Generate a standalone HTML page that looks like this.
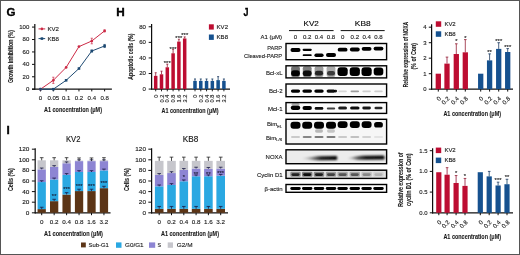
<!DOCTYPE html>
<html><head><meta charset="utf-8"><style>html,body{margin:0;padding:0;background:#fff;width:520px;height:255px;overflow:hidden}svg{display:block}</style></head>
<body><svg width="520" height="255" viewBox="0 0 520 255" font-family='"Liberation Sans", sans-serif' fill="#1a1a1a">
<defs><filter id="blur" x="-20%" y="-50%" width="140%" height="200%"><feGaussianBlur stdDeviation="0.55"/></filter>
<linearGradient id="nx1" x1="301" x2="338" y1="0" y2="0" gradientUnits="userSpaceOnUse"><stop offset="0" stop-color="#000" stop-opacity="0.05"/><stop offset="0.3" stop-color="#000" stop-opacity="0.45"/><stop offset="0.55" stop-color="#000" stop-opacity="0.9"/><stop offset="1" stop-color="#000" stop-opacity="1"/></linearGradient>
<linearGradient id="nx2" x1="347" x2="385" y1="0" y2="0" gradientUnits="userSpaceOnUse"><stop offset="0" stop-color="#000" stop-opacity="0.1"/><stop offset="0.3" stop-color="#000" stop-opacity="0.7"/><stop offset="0.5" stop-color="#000" stop-opacity="0.95"/><stop offset="1" stop-color="#000" stop-opacity="1"/></linearGradient>
<filter id="blur2" x="-20%" y="-100%" width="140%" height="300%"><feGaussianBlur stdDeviation="0.8"/></filter>
<filter id="soft" x="0" y="0" width="100%" height="100%"><feGaussianBlur stdDeviation="0.3"/></filter></defs>
<style>text{stroke:#1a1a1a;stroke-width:0.12px}</style>
<rect x="0" y="0" width="520" height="255" fill="#fff"/>
<g filter="url(#soft)">
<text transform="translate(6.50 15.60) scale(1.1 1)" font-size="10.5" text-anchor="start" font-weight="bold" fill="#000" style="stroke:#000;stroke-width:0.35px">G</text>
<line x1="34.80" y1="23.90" x2="34.80" y2="89.80" stroke="#111" stroke-width="1.2"/>
<line x1="32.00" y1="89.20" x2="111.90" y2="89.20" stroke="#111" stroke-width="1.2"/>
<line x1="32.00" y1="89.20" x2="34.80" y2="89.20" stroke="#111" stroke-width="1.0"/>
<text transform="translate(29.30 91.15) scale(1.1 1)" font-size="5.5" text-anchor="end">0</text>
<line x1="32.00" y1="76.78" x2="34.80" y2="76.78" stroke="#111" stroke-width="1.0"/>
<text transform="translate(29.30 78.73) scale(1.1 1)" font-size="5.5" text-anchor="end">20</text>
<line x1="32.00" y1="64.36" x2="34.80" y2="64.36" stroke="#111" stroke-width="1.0"/>
<text transform="translate(29.30 66.31) scale(1.1 1)" font-size="5.5" text-anchor="end">40</text>
<line x1="32.00" y1="51.94" x2="34.80" y2="51.94" stroke="#111" stroke-width="1.0"/>
<text transform="translate(29.30 53.89) scale(1.1 1)" font-size="5.5" text-anchor="end">60</text>
<line x1="32.00" y1="39.52" x2="34.80" y2="39.52" stroke="#111" stroke-width="1.0"/>
<text transform="translate(29.30 41.47) scale(1.1 1)" font-size="5.5" text-anchor="end">80</text>
<line x1="32.00" y1="27.10" x2="34.80" y2="27.10" stroke="#111" stroke-width="1.0"/>
<text transform="translate(29.30 29.05) scale(1.1 1)" font-size="5.5" text-anchor="end">100</text>
<line x1="40.50" y1="89.20" x2="40.50" y2="91.40" stroke="#111" stroke-width="1.0"/>
<text transform="translate(40.50 99.60) scale(1.1 1)" font-size="5.5" text-anchor="middle">0</text>
<line x1="53.32" y1="89.20" x2="53.32" y2="91.40" stroke="#111" stroke-width="1.0"/>
<text transform="translate(53.32 99.60) scale(1.1 1)" font-size="5.5" text-anchor="middle">0.05</text>
<line x1="66.14" y1="89.20" x2="66.14" y2="91.40" stroke="#111" stroke-width="1.0"/>
<text transform="translate(66.14 99.60) scale(1.1 1)" font-size="5.5" text-anchor="middle">0.1</text>
<line x1="78.96" y1="89.20" x2="78.96" y2="91.40" stroke="#111" stroke-width="1.0"/>
<text transform="translate(78.96 99.60) scale(1.1 1)" font-size="5.5" text-anchor="middle">0.2</text>
<line x1="91.78" y1="89.20" x2="91.78" y2="91.40" stroke="#111" stroke-width="1.0"/>
<text transform="translate(91.78 99.60) scale(1.1 1)" font-size="5.5" text-anchor="middle">0.4</text>
<line x1="104.60" y1="89.20" x2="104.60" y2="91.40" stroke="#111" stroke-width="1.0"/>
<text transform="translate(104.60 99.60) scale(1.1 1)" font-size="5.5" text-anchor="middle">0.8</text>
<text transform="translate(73.00 111.70)" font-size="8.1" text-anchor="middle" font-weight="bold" textLength="58.00" lengthAdjust="spacingAndGlyphs">A1 concentration (μM)</text>
<text transform="translate(12.90 56.50) rotate(-90)" font-size="7.2" text-anchor="middle" font-weight="bold" textLength="53.00" lengthAdjust="spacingAndGlyphs">Growth inhibition (%)</text>
<polyline points="40.50,89.20 53.32,80.32 66.14,67.40 78.96,46.60 91.78,41.01 104.60,30.89" fill="none" stroke="#cc2a46" stroke-width="1.0"/>
<polyline points="40.50,89.20 53.32,89.20 66.14,80.32 78.96,68.52 91.78,51.01 104.60,45.98" fill="none" stroke="#1f4a72" stroke-width="1.0"/>
<line x1="53.32" y1="77.21" x2="53.32" y2="83.42" stroke="#cc2a46" stroke-width="0.7"/>
<line x1="52.22" y1="77.21" x2="54.42" y2="77.21" stroke="#cc2a46" stroke-width="0.7"/>
<line x1="52.22" y1="83.42" x2="54.42" y2="83.42" stroke="#cc2a46" stroke-width="0.7"/>
<line x1="91.78" y1="38.22" x2="91.78" y2="43.80" stroke="#cc2a46" stroke-width="0.7"/>
<line x1="90.68" y1="38.22" x2="92.88" y2="38.22" stroke="#cc2a46" stroke-width="0.7"/>
<line x1="90.68" y1="43.80" x2="92.88" y2="43.80" stroke="#cc2a46" stroke-width="0.7"/>
<line x1="104.60" y1="29.96" x2="104.60" y2="31.82" stroke="#cc2a46" stroke-width="0.7"/>
<line x1="103.50" y1="29.96" x2="105.70" y2="29.96" stroke="#cc2a46" stroke-width="0.7"/>
<line x1="103.50" y1="31.82" x2="105.70" y2="31.82" stroke="#cc2a46" stroke-width="0.7"/>
<line x1="104.60" y1="44.43" x2="104.60" y2="47.53" stroke="#1f4a72" stroke-width="0.7"/>
<line x1="103.50" y1="44.43" x2="105.70" y2="44.43" stroke="#1f4a72" stroke-width="0.7"/>
<line x1="103.50" y1="47.53" x2="105.70" y2="47.53" stroke="#1f4a72" stroke-width="0.7"/>
<line x1="91.78" y1="50.08" x2="91.78" y2="51.94" stroke="#1f4a72" stroke-width="0.7"/>
<line x1="90.68" y1="50.08" x2="92.88" y2="50.08" stroke="#1f4a72" stroke-width="0.7"/>
<line x1="90.68" y1="51.94" x2="92.88" y2="51.94" stroke="#1f4a72" stroke-width="0.7"/>
<circle cx="40.50" cy="89.20" r="1.35" fill="#cc2a46"/>
<circle cx="53.32" cy="80.32" r="1.35" fill="#cc2a46"/>
<circle cx="66.14" cy="67.40" r="1.35" fill="#cc2a46"/>
<circle cx="78.96" cy="46.60" r="1.35" fill="#cc2a46"/>
<circle cx="91.78" cy="41.01" r="1.35" fill="#cc2a46"/>
<circle cx="104.60" cy="30.89" r="1.35" fill="#cc2a46"/>
<rect x="39.20" y="87.90" width="2.60" height="2.60" fill="#1f4a72"/>
<rect x="52.02" y="87.90" width="2.60" height="2.60" fill="#1f4a72"/>
<rect x="64.84" y="79.02" width="2.60" height="2.60" fill="#1f4a72"/>
<rect x="77.66" y="67.22" width="2.60" height="2.60" fill="#1f4a72"/>
<rect x="90.48" y="49.71" width="2.60" height="2.60" fill="#1f4a72"/>
<rect x="103.30" y="44.68" width="2.60" height="2.60" fill="#1f4a72"/>
<line x1="38.50" y1="28.90" x2="45.20" y2="28.90" stroke="#cc2a46" stroke-width="1.0"/>
<circle cx="41.9" cy="28.9" r="1.3" fill="#cc2a46"/>
<text transform="translate(47.40 31.00)" font-size="6.2" text-anchor="start" textLength="11.60" lengthAdjust="spacingAndGlyphs">KV2</text>
<line x1="38.50" y1="38.60" x2="45.20" y2="38.60" stroke="#1f4a72" stroke-width="1.0"/>
<rect x="40.60" y="37.30" width="2.60" height="2.60" fill="#1f4a72"/>
<text transform="translate(47.40 40.70)" font-size="6.2" text-anchor="start" textLength="11.60" lengthAdjust="spacingAndGlyphs">KB8</text>
<text transform="translate(116.30 15.60) scale(1.12 1)" font-size="10.5" text-anchor="start" font-weight="bold" fill="#000" style="stroke:#000;stroke-width:0.35px">H</text>
<line x1="151.60" y1="24.10" x2="151.60" y2="89.60" stroke="#111" stroke-width="1.2"/>
<line x1="151.00" y1="89.10" x2="230.00" y2="89.10" stroke="#111" stroke-width="1.2"/>
<line x1="148.70" y1="89.10" x2="151.60" y2="89.10" stroke="#111" stroke-width="1.0"/>
<text transform="translate(145.90 91.05) scale(1.1 1)" font-size="5.5" text-anchor="end">0</text>
<line x1="148.70" y1="73.52" x2="151.60" y2="73.52" stroke="#111" stroke-width="1.0"/>
<text transform="translate(145.90 75.47) scale(1.1 1)" font-size="5.5" text-anchor="end">20</text>
<line x1="148.70" y1="57.94" x2="151.60" y2="57.94" stroke="#111" stroke-width="1.0"/>
<text transform="translate(145.90 59.89) scale(1.1 1)" font-size="5.5" text-anchor="end">40</text>
<line x1="148.70" y1="42.36" x2="151.60" y2="42.36" stroke="#111" stroke-width="1.0"/>
<text transform="translate(145.90 44.31) scale(1.1 1)" font-size="5.5" text-anchor="end">60</text>
<line x1="148.70" y1="26.78" x2="151.60" y2="26.78" stroke="#111" stroke-width="1.0"/>
<text transform="translate(145.90 28.73) scale(1.1 1)" font-size="5.5" text-anchor="end">80</text>
<rect x="153.95" y="75.86" width="3.50" height="13.24" fill="#bd1131"/>
<line x1="155.70" y1="75.86" x2="155.70" y2="72.74" stroke="#8c0d27" stroke-width="0.75"/>
<line x1="154.70" y1="72.74" x2="156.70" y2="72.74" stroke="#8c0d27" stroke-width="0.75"/>
<line x1="155.70" y1="89.10" x2="155.70" y2="91.30" stroke="#111" stroke-width="0.9"/>
<text transform="translate(157.70 94.60) rotate(-90)" font-size="5.6" text-anchor="end">0</text>
<rect x="159.75" y="74.30" width="3.50" height="14.80" fill="#bd1131"/>
<line x1="161.50" y1="74.30" x2="161.50" y2="71.18" stroke="#8c0d27" stroke-width="0.75"/>
<line x1="160.50" y1="71.18" x2="162.50" y2="71.18" stroke="#8c0d27" stroke-width="0.75"/>
<line x1="161.50" y1="89.10" x2="161.50" y2="91.30" stroke="#111" stroke-width="0.9"/>
<text transform="translate(163.50 94.60) rotate(-90)" font-size="5.6" text-anchor="end">0.2</text>
<rect x="165.55" y="67.29" width="3.50" height="21.81" fill="#bd1131"/>
<line x1="167.30" y1="67.29" x2="167.30" y2="64.17" stroke="#8c0d27" stroke-width="0.75"/>
<line x1="166.30" y1="64.17" x2="168.30" y2="64.17" stroke="#8c0d27" stroke-width="0.75"/>
<line x1="167.30" y1="89.10" x2="167.30" y2="91.30" stroke="#111" stroke-width="0.9"/>
<text transform="translate(169.30 94.60) rotate(-90)" font-size="5.6" text-anchor="end">0.4</text>
<rect x="171.35" y="53.27" width="3.50" height="35.83" fill="#bd1131"/>
<line x1="173.10" y1="53.27" x2="173.10" y2="49.37" stroke="#8c0d27" stroke-width="0.75"/>
<line x1="172.10" y1="49.37" x2="174.10" y2="49.37" stroke="#8c0d27" stroke-width="0.75"/>
<line x1="173.10" y1="89.10" x2="173.10" y2="91.30" stroke="#111" stroke-width="0.9"/>
<text transform="translate(175.10 94.60) rotate(-90)" font-size="5.6" text-anchor="end">0.8</text>
<rect x="177.15" y="41.58" width="3.50" height="47.52" fill="#bd1131"/>
<line x1="178.90" y1="41.58" x2="178.90" y2="39.24" stroke="#8c0d27" stroke-width="0.75"/>
<line x1="177.90" y1="39.24" x2="179.90" y2="39.24" stroke="#8c0d27" stroke-width="0.75"/>
<line x1="178.90" y1="89.10" x2="178.90" y2="91.30" stroke="#111" stroke-width="0.9"/>
<text transform="translate(180.90 94.60) rotate(-90)" font-size="5.6" text-anchor="end">1.6</text>
<rect x="182.95" y="38.46" width="3.50" height="50.64" fill="#bd1131"/>
<line x1="184.70" y1="38.46" x2="184.70" y2="36.91" stroke="#8c0d27" stroke-width="0.75"/>
<line x1="183.70" y1="36.91" x2="185.70" y2="36.91" stroke="#8c0d27" stroke-width="0.75"/>
<line x1="184.70" y1="89.10" x2="184.70" y2="91.30" stroke="#111" stroke-width="0.9"/>
<text transform="translate(186.70 94.60) rotate(-90)" font-size="5.6" text-anchor="end">3.2</text>
<rect x="193.25" y="80.92" width="3.50" height="8.18" fill="#14518f"/>
<line x1="195.00" y1="80.92" x2="195.00" y2="78.97" stroke="#0d2f58" stroke-width="0.75"/>
<line x1="194.00" y1="78.97" x2="196.00" y2="78.97" stroke="#0d2f58" stroke-width="0.75"/>
<line x1="195.00" y1="89.10" x2="195.00" y2="91.30" stroke="#111" stroke-width="0.9"/>
<text transform="translate(197.00 94.60) rotate(-90)" font-size="5.6" text-anchor="end">0</text>
<rect x="199.03" y="80.92" width="3.50" height="8.18" fill="#14518f"/>
<line x1="200.78" y1="80.92" x2="200.78" y2="78.97" stroke="#0d2f58" stroke-width="0.75"/>
<line x1="199.78" y1="78.97" x2="201.78" y2="78.97" stroke="#0d2f58" stroke-width="0.75"/>
<line x1="200.78" y1="89.10" x2="200.78" y2="91.30" stroke="#111" stroke-width="0.9"/>
<text transform="translate(202.78 94.60) rotate(-90)" font-size="5.6" text-anchor="end">0.2</text>
<rect x="204.81" y="80.92" width="3.50" height="8.18" fill="#14518f"/>
<line x1="206.56" y1="80.92" x2="206.56" y2="78.97" stroke="#0d2f58" stroke-width="0.75"/>
<line x1="205.56" y1="78.97" x2="207.56" y2="78.97" stroke="#0d2f58" stroke-width="0.75"/>
<line x1="206.56" y1="89.10" x2="206.56" y2="91.30" stroke="#111" stroke-width="0.9"/>
<text transform="translate(208.56 94.60) rotate(-90)" font-size="5.6" text-anchor="end">0.4</text>
<rect x="210.59" y="80.92" width="3.50" height="8.18" fill="#14518f"/>
<line x1="212.34" y1="80.92" x2="212.34" y2="78.97" stroke="#0d2f58" stroke-width="0.75"/>
<line x1="211.34" y1="78.97" x2="213.34" y2="78.97" stroke="#0d2f58" stroke-width="0.75"/>
<line x1="212.34" y1="89.10" x2="212.34" y2="91.30" stroke="#111" stroke-width="0.9"/>
<text transform="translate(214.34 94.60) rotate(-90)" font-size="5.6" text-anchor="end">0.8</text>
<rect x="216.37" y="80.14" width="3.50" height="8.96" fill="#14518f"/>
<line x1="218.12" y1="80.14" x2="218.12" y2="76.64" stroke="#0d2f58" stroke-width="0.75"/>
<line x1="217.12" y1="76.64" x2="219.12" y2="76.64" stroke="#0d2f58" stroke-width="0.75"/>
<line x1="218.12" y1="89.10" x2="218.12" y2="91.30" stroke="#111" stroke-width="0.9"/>
<text transform="translate(220.12 94.60) rotate(-90)" font-size="5.6" text-anchor="end">1.6</text>
<rect x="222.15" y="80.92" width="3.50" height="8.18" fill="#14518f"/>
<line x1="223.90" y1="80.92" x2="223.90" y2="78.97" stroke="#0d2f58" stroke-width="0.75"/>
<line x1="222.90" y1="78.97" x2="224.90" y2="78.97" stroke="#0d2f58" stroke-width="0.75"/>
<line x1="223.90" y1="89.10" x2="223.90" y2="91.30" stroke="#111" stroke-width="0.9"/>
<text transform="translate(225.90 94.60) rotate(-90)" font-size="5.6" text-anchor="end">3.2</text>
<text transform="translate(167.30 65.38)" font-size="5.8" text-anchor="middle" fill="#111" letter-spacing="0.1">***</text>
<text transform="translate(173.10 51.38)" font-size="5.8" text-anchor="middle" fill="#111" letter-spacing="0.1">***</text>
<text transform="translate(178.90 39.98)" font-size="5.8" text-anchor="middle" fill="#111" letter-spacing="0.1">***</text>
<text transform="translate(184.70 36.78)" font-size="5.8" text-anchor="middle" fill="#111" letter-spacing="0.1">***</text>
<text transform="translate(190.00 113.20)" font-size="8.1" text-anchor="middle" font-weight="bold" textLength="57.00" lengthAdjust="spacingAndGlyphs">A1 concentration (μM)</text>
<text transform="translate(133.30 56.60) rotate(-90)" font-size="7.2" text-anchor="middle" font-weight="bold" textLength="46.20" lengthAdjust="spacingAndGlyphs">Apoptotic cells (%)</text>
<rect x="208.90" y="24.30" width="4.90" height="5.30" fill="#bd1131"/>
<text transform="translate(216.60 29.00)" font-size="5.8" text-anchor="start" textLength="11.40" lengthAdjust="spacingAndGlyphs">KV2</text>
<rect x="208.90" y="34.50" width="4.90" height="5.40" fill="#14518f"/>
<text transform="translate(216.60 39.00)" font-size="5.8" text-anchor="start" textLength="11.40" lengthAdjust="spacingAndGlyphs">KB8</text>
<text transform="translate(6.50 133.60) scale(1.1 1)" font-size="10.5" text-anchor="start" font-weight="bold" fill="#000" style="stroke:#000;stroke-width:0.35px">I</text>
<text transform="translate(73.20 141.80)" font-size="8.2" text-anchor="middle" fill="#111" textLength="14.50" lengthAdjust="spacingAndGlyphs">KV2</text>
<text transform="translate(190.50 141.80)" font-size="8.2" text-anchor="middle" fill="#111" textLength="15.50" lengthAdjust="spacingAndGlyphs">KB8</text>
<line x1="35.20" y1="148.20" x2="35.20" y2="213.40" stroke="#111" stroke-width="1.2"/>
<line x1="34.70" y1="212.80" x2="110.50" y2="212.80" stroke="#111" stroke-width="1.2"/>
<line x1="31.90" y1="212.80" x2="35.20" y2="212.80" stroke="#111" stroke-width="1.0"/>
<text transform="translate(29.40 214.80) scale(1.15 1)" font-size="5.6" text-anchor="end">0</text>
<line x1="31.90" y1="202.20" x2="35.20" y2="202.20" stroke="#111" stroke-width="1.0"/>
<text transform="translate(29.40 204.20) scale(1.15 1)" font-size="5.6" text-anchor="end">20</text>
<line x1="31.90" y1="191.60" x2="35.20" y2="191.60" stroke="#111" stroke-width="1.0"/>
<text transform="translate(29.40 193.60) scale(1.15 1)" font-size="5.6" text-anchor="end">40</text>
<line x1="31.90" y1="181.00" x2="35.20" y2="181.00" stroke="#111" stroke-width="1.0"/>
<text transform="translate(29.40 183.00) scale(1.15 1)" font-size="5.6" text-anchor="end">60</text>
<line x1="31.90" y1="170.40" x2="35.20" y2="170.40" stroke="#111" stroke-width="1.0"/>
<text transform="translate(29.40 172.40) scale(1.15 1)" font-size="5.6" text-anchor="end">80</text>
<line x1="31.90" y1="159.80" x2="35.20" y2="159.80" stroke="#111" stroke-width="1.0"/>
<text transform="translate(29.40 161.80) scale(1.15 1)" font-size="5.6" text-anchor="end">100</text>
<line x1="31.90" y1="149.20" x2="35.20" y2="149.20" stroke="#111" stroke-width="1.0"/>
<text transform="translate(29.40 151.20) scale(1.15 1)" font-size="5.6" text-anchor="end">120</text>
<rect x="37.55" y="209.09" width="8.30" height="3.71" fill="#5b3518"/>
<rect x="37.55" y="182.06" width="8.30" height="27.03" fill="#2aa8e2"/>
<rect x="37.55" y="169.34" width="8.30" height="12.72" fill="#8d85d3"/>
<rect x="37.55" y="160.33" width="8.30" height="9.01" fill="#c6c6cc"/>
<line x1="41.70" y1="212.80" x2="41.70" y2="215.20" stroke="#111" stroke-width="1.0"/>
<rect x="50.00" y="201.14" width="8.30" height="11.66" fill="#5b3518"/>
<rect x="50.00" y="179.41" width="8.30" height="21.73" fill="#2aa8e2"/>
<rect x="50.00" y="166.96" width="8.30" height="12.46" fill="#8d85d3"/>
<rect x="50.00" y="160.33" width="8.30" height="6.62" fill="#c6c6cc"/>
<line x1="54.15" y1="212.80" x2="54.15" y2="215.20" stroke="#111" stroke-width="1.0"/>
<rect x="62.45" y="194.52" width="8.30" height="18.28" fill="#5b3518"/>
<rect x="62.45" y="174.91" width="8.30" height="19.61" fill="#2aa8e2"/>
<rect x="62.45" y="163.25" width="8.30" height="11.66" fill="#8d85d3"/>
<rect x="62.45" y="160.33" width="8.30" height="2.91" fill="#c6c6cc"/>
<line x1="66.60" y1="212.80" x2="66.60" y2="215.20" stroke="#111" stroke-width="1.0"/>
<rect x="74.90" y="191.07" width="8.30" height="21.73" fill="#5b3518"/>
<rect x="74.90" y="171.99" width="8.30" height="19.08" fill="#2aa8e2"/>
<rect x="74.90" y="161.12" width="8.30" height="10.87" fill="#8d85d3"/>
<rect x="74.90" y="160.59" width="8.30" height="0.53" fill="#c6c6cc"/>
<line x1="79.05" y1="212.80" x2="79.05" y2="215.20" stroke="#111" stroke-width="1.0"/>
<rect x="87.35" y="191.07" width="8.30" height="21.73" fill="#5b3518"/>
<rect x="87.35" y="171.99" width="8.30" height="19.08" fill="#2aa8e2"/>
<rect x="87.35" y="161.12" width="8.30" height="10.87" fill="#8d85d3"/>
<rect x="87.35" y="160.59" width="8.30" height="0.53" fill="#c6c6cc"/>
<line x1="91.50" y1="212.80" x2="91.50" y2="215.20" stroke="#111" stroke-width="1.0"/>
<rect x="99.80" y="188.16" width="8.30" height="24.65" fill="#5b3518"/>
<rect x="99.80" y="170.40" width="8.30" height="17.75" fill="#2aa8e2"/>
<rect x="99.80" y="161.12" width="8.30" height="9.28" fill="#8d85d3"/>
<rect x="99.80" y="160.33" width="8.30" height="0.79" fill="#c6c6cc"/>
<line x1="103.95" y1="212.80" x2="103.95" y2="215.20" stroke="#111" stroke-width="1.0"/>
<line x1="41.70" y1="209.09" x2="41.70" y2="207.24" stroke="#1b1b46" stroke-width="0.8"/>
<line x1="39.90" y1="207.24" x2="43.50" y2="207.24" stroke="#1b1b46" stroke-width="0.8"/>
<line x1="41.70" y1="182.06" x2="41.70" y2="180.74" stroke="#1b1b46" stroke-width="0.8"/>
<line x1="39.90" y1="180.74" x2="43.50" y2="180.74" stroke="#1b1b46" stroke-width="0.8"/>
<line x1="41.70" y1="169.34" x2="41.70" y2="168.02" stroke="#1b1b46" stroke-width="0.8"/>
<line x1="39.90" y1="168.02" x2="43.50" y2="168.02" stroke="#1b1b46" stroke-width="0.8"/>
<line x1="41.70" y1="160.33" x2="41.70" y2="157.68" stroke="#222" stroke-width="0.8"/>
<line x1="39.90" y1="157.68" x2="43.50" y2="157.68" stroke="#222" stroke-width="0.8"/>
<line x1="54.15" y1="201.14" x2="54.15" y2="199.29" stroke="#1b1b46" stroke-width="0.8"/>
<line x1="52.35" y1="199.29" x2="55.95" y2="199.29" stroke="#1b1b46" stroke-width="0.8"/>
<line x1="54.15" y1="179.41" x2="54.15" y2="178.09" stroke="#1b1b46" stroke-width="0.8"/>
<line x1="52.35" y1="178.09" x2="55.95" y2="178.09" stroke="#1b1b46" stroke-width="0.8"/>
<line x1="54.15" y1="166.96" x2="54.15" y2="165.63" stroke="#1b1b46" stroke-width="0.8"/>
<line x1="52.35" y1="165.63" x2="55.95" y2="165.63" stroke="#1b1b46" stroke-width="0.8"/>
<line x1="54.15" y1="160.33" x2="54.15" y2="157.68" stroke="#222" stroke-width="0.8"/>
<line x1="52.35" y1="157.68" x2="55.95" y2="157.68" stroke="#222" stroke-width="0.8"/>
<line x1="66.60" y1="194.52" x2="66.60" y2="192.66" stroke="#1b1b46" stroke-width="0.8"/>
<line x1="64.80" y1="192.66" x2="68.40" y2="192.66" stroke="#1b1b46" stroke-width="0.8"/>
<line x1="66.60" y1="174.91" x2="66.60" y2="173.58" stroke="#1b1b46" stroke-width="0.8"/>
<line x1="64.80" y1="173.58" x2="68.40" y2="173.58" stroke="#1b1b46" stroke-width="0.8"/>
<line x1="66.60" y1="163.25" x2="66.60" y2="161.92" stroke="#1b1b46" stroke-width="0.8"/>
<line x1="64.80" y1="161.92" x2="68.40" y2="161.92" stroke="#1b1b46" stroke-width="0.8"/>
<line x1="66.60" y1="160.33" x2="66.60" y2="157.68" stroke="#222" stroke-width="0.8"/>
<line x1="64.80" y1="157.68" x2="68.40" y2="157.68" stroke="#222" stroke-width="0.8"/>
<line x1="79.05" y1="191.07" x2="79.05" y2="189.22" stroke="#1b1b46" stroke-width="0.8"/>
<line x1="77.25" y1="189.22" x2="80.85" y2="189.22" stroke="#1b1b46" stroke-width="0.8"/>
<line x1="79.05" y1="171.99" x2="79.05" y2="170.67" stroke="#1b1b46" stroke-width="0.8"/>
<line x1="77.25" y1="170.67" x2="80.85" y2="170.67" stroke="#1b1b46" stroke-width="0.8"/>
<line x1="79.05" y1="161.12" x2="79.05" y2="159.80" stroke="#1b1b46" stroke-width="0.8"/>
<line x1="77.25" y1="159.80" x2="80.85" y2="159.80" stroke="#1b1b46" stroke-width="0.8"/>
<line x1="79.05" y1="160.59" x2="79.05" y2="157.94" stroke="#222" stroke-width="0.8"/>
<line x1="77.25" y1="157.94" x2="80.85" y2="157.94" stroke="#222" stroke-width="0.8"/>
<line x1="91.50" y1="191.07" x2="91.50" y2="189.22" stroke="#1b1b46" stroke-width="0.8"/>
<line x1="89.70" y1="189.22" x2="93.30" y2="189.22" stroke="#1b1b46" stroke-width="0.8"/>
<line x1="91.50" y1="171.99" x2="91.50" y2="170.67" stroke="#1b1b46" stroke-width="0.8"/>
<line x1="89.70" y1="170.67" x2="93.30" y2="170.67" stroke="#1b1b46" stroke-width="0.8"/>
<line x1="91.50" y1="161.12" x2="91.50" y2="159.80" stroke="#1b1b46" stroke-width="0.8"/>
<line x1="89.70" y1="159.80" x2="93.30" y2="159.80" stroke="#1b1b46" stroke-width="0.8"/>
<line x1="91.50" y1="160.59" x2="91.50" y2="157.94" stroke="#222" stroke-width="0.8"/>
<line x1="89.70" y1="157.94" x2="93.30" y2="157.94" stroke="#222" stroke-width="0.8"/>
<line x1="103.95" y1="188.16" x2="103.95" y2="186.30" stroke="#1b1b46" stroke-width="0.8"/>
<line x1="102.15" y1="186.30" x2="105.75" y2="186.30" stroke="#1b1b46" stroke-width="0.8"/>
<line x1="103.95" y1="170.40" x2="103.95" y2="169.08" stroke="#1b1b46" stroke-width="0.8"/>
<line x1="102.15" y1="169.08" x2="105.75" y2="169.08" stroke="#1b1b46" stroke-width="0.8"/>
<line x1="103.95" y1="161.12" x2="103.95" y2="159.80" stroke="#1b1b46" stroke-width="0.8"/>
<line x1="102.15" y1="159.80" x2="105.75" y2="159.80" stroke="#1b1b46" stroke-width="0.8"/>
<line x1="103.95" y1="160.33" x2="103.95" y2="157.68" stroke="#222" stroke-width="0.8"/>
<line x1="102.15" y1="157.68" x2="105.75" y2="157.68" stroke="#222" stroke-width="0.8"/>
<text transform="translate(41.70 224.40) scale(1.12 1)" font-size="5.6" text-anchor="middle">0</text>
<text transform="translate(54.15 224.40) scale(1.12 1)" font-size="5.6" text-anchor="middle">0.2</text>
<text transform="translate(66.60 224.40) scale(1.12 1)" font-size="5.6" text-anchor="middle">0.4</text>
<text transform="translate(79.05 224.40) scale(1.12 1)" font-size="5.6" text-anchor="middle">0.8</text>
<text transform="translate(91.50 224.40) scale(1.12 1)" font-size="5.6" text-anchor="middle">1.6</text>
<text transform="translate(103.95 224.40) scale(1.12 1)" font-size="5.6" text-anchor="middle">3.2</text>
<line x1="151.60" y1="148.20" x2="151.60" y2="213.40" stroke="#111" stroke-width="1.2"/>
<line x1="151.10" y1="212.80" x2="228.00" y2="212.80" stroke="#111" stroke-width="1.2"/>
<line x1="148.30" y1="212.80" x2="151.60" y2="212.80" stroke="#111" stroke-width="1.0"/>
<text transform="translate(146.00 214.80) scale(1.15 1)" font-size="5.6" text-anchor="end">0</text>
<line x1="148.30" y1="202.20" x2="151.60" y2="202.20" stroke="#111" stroke-width="1.0"/>
<text transform="translate(146.00 204.20) scale(1.15 1)" font-size="5.6" text-anchor="end">20</text>
<line x1="148.30" y1="191.60" x2="151.60" y2="191.60" stroke="#111" stroke-width="1.0"/>
<text transform="translate(146.00 193.60) scale(1.15 1)" font-size="5.6" text-anchor="end">40</text>
<line x1="148.30" y1="181.00" x2="151.60" y2="181.00" stroke="#111" stroke-width="1.0"/>
<text transform="translate(146.00 183.00) scale(1.15 1)" font-size="5.6" text-anchor="end">60</text>
<line x1="148.30" y1="170.40" x2="151.60" y2="170.40" stroke="#111" stroke-width="1.0"/>
<text transform="translate(146.00 172.40) scale(1.15 1)" font-size="5.6" text-anchor="end">80</text>
<line x1="148.30" y1="159.80" x2="151.60" y2="159.80" stroke="#111" stroke-width="1.0"/>
<text transform="translate(146.00 161.80) scale(1.15 1)" font-size="5.6" text-anchor="end">100</text>
<line x1="148.30" y1="149.20" x2="151.60" y2="149.20" stroke="#111" stroke-width="1.0"/>
<text transform="translate(146.00 151.20) scale(1.15 1)" font-size="5.6" text-anchor="end">120</text>
<rect x="154.90" y="208.83" width="8.60" height="3.97" fill="#5b3518"/>
<rect x="154.90" y="186.30" width="8.60" height="22.53" fill="#2aa8e2"/>
<rect x="154.90" y="174.91" width="8.60" height="11.40" fill="#8d85d3"/>
<rect x="154.90" y="160.86" width="8.60" height="14.04" fill="#c6c6cc"/>
<line x1="159.20" y1="212.80" x2="159.20" y2="215.20" stroke="#111" stroke-width="1.0"/>
<rect x="167.20" y="208.83" width="8.60" height="3.97" fill="#5b3518"/>
<rect x="167.20" y="184.98" width="8.60" height="23.85" fill="#2aa8e2"/>
<rect x="167.20" y="173.05" width="8.60" height="11.93" fill="#8d85d3"/>
<rect x="167.20" y="160.86" width="8.60" height="12.19" fill="#c6c6cc"/>
<line x1="171.50" y1="212.80" x2="171.50" y2="215.20" stroke="#111" stroke-width="1.0"/>
<rect x="179.50" y="208.83" width="8.60" height="3.97" fill="#5b3518"/>
<rect x="179.50" y="181.27" width="8.60" height="27.56" fill="#2aa8e2"/>
<rect x="179.50" y="169.87" width="8.60" height="11.40" fill="#8d85d3"/>
<rect x="179.50" y="160.86" width="8.60" height="9.01" fill="#c6c6cc"/>
<line x1="183.80" y1="212.80" x2="183.80" y2="215.20" stroke="#111" stroke-width="1.0"/>
<rect x="191.80" y="208.83" width="8.60" height="3.97" fill="#5b3518"/>
<rect x="191.80" y="176.23" width="8.60" height="32.59" fill="#2aa8e2"/>
<rect x="191.80" y="168.55" width="8.60" height="7.69" fill="#8d85d3"/>
<rect x="191.80" y="160.86" width="8.60" height="7.69" fill="#c6c6cc"/>
<line x1="196.10" y1="212.80" x2="196.10" y2="215.20" stroke="#111" stroke-width="1.0"/>
<rect x="204.10" y="208.83" width="8.60" height="3.97" fill="#5b3518"/>
<rect x="204.10" y="176.23" width="8.60" height="32.59" fill="#2aa8e2"/>
<rect x="204.10" y="168.81" width="8.60" height="7.42" fill="#8d85d3"/>
<rect x="204.10" y="160.86" width="8.60" height="7.95" fill="#c6c6cc"/>
<line x1="208.40" y1="212.80" x2="208.40" y2="215.20" stroke="#111" stroke-width="1.0"/>
<rect x="216.40" y="208.83" width="8.60" height="3.97" fill="#5b3518"/>
<rect x="216.40" y="175.70" width="8.60" height="33.12" fill="#2aa8e2"/>
<rect x="216.40" y="168.55" width="8.60" height="7.16" fill="#8d85d3"/>
<rect x="216.40" y="160.86" width="8.60" height="7.69" fill="#c6c6cc"/>
<line x1="220.70" y1="212.80" x2="220.70" y2="215.20" stroke="#111" stroke-width="1.0"/>
<line x1="159.20" y1="208.83" x2="159.20" y2="206.44" stroke="#1b1b46" stroke-width="0.8"/>
<line x1="157.40" y1="206.44" x2="161.00" y2="206.44" stroke="#1b1b46" stroke-width="0.8"/>
<line x1="159.20" y1="186.30" x2="159.20" y2="184.98" stroke="#1b1b46" stroke-width="0.8"/>
<line x1="157.40" y1="184.98" x2="161.00" y2="184.98" stroke="#1b1b46" stroke-width="0.8"/>
<line x1="159.20" y1="174.91" x2="159.20" y2="173.58" stroke="#1b1b46" stroke-width="0.8"/>
<line x1="157.40" y1="173.58" x2="161.00" y2="173.58" stroke="#1b1b46" stroke-width="0.8"/>
<line x1="159.20" y1="160.86" x2="159.20" y2="157.15" stroke="#222" stroke-width="0.8"/>
<line x1="157.40" y1="157.15" x2="161.00" y2="157.15" stroke="#222" stroke-width="0.8"/>
<line x1="171.50" y1="208.83" x2="171.50" y2="206.44" stroke="#1b1b46" stroke-width="0.8"/>
<line x1="169.70" y1="206.44" x2="173.30" y2="206.44" stroke="#1b1b46" stroke-width="0.8"/>
<line x1="171.50" y1="184.98" x2="171.50" y2="183.65" stroke="#1b1b46" stroke-width="0.8"/>
<line x1="169.70" y1="183.65" x2="173.30" y2="183.65" stroke="#1b1b46" stroke-width="0.8"/>
<line x1="171.50" y1="173.05" x2="171.50" y2="171.73" stroke="#1b1b46" stroke-width="0.8"/>
<line x1="169.70" y1="171.73" x2="173.30" y2="171.73" stroke="#1b1b46" stroke-width="0.8"/>
<line x1="171.50" y1="160.86" x2="171.50" y2="157.15" stroke="#222" stroke-width="0.8"/>
<line x1="169.70" y1="157.15" x2="173.30" y2="157.15" stroke="#222" stroke-width="0.8"/>
<line x1="183.80" y1="208.83" x2="183.80" y2="206.44" stroke="#1b1b46" stroke-width="0.8"/>
<line x1="182.00" y1="206.44" x2="185.60" y2="206.44" stroke="#1b1b46" stroke-width="0.8"/>
<line x1="183.80" y1="181.27" x2="183.80" y2="179.94" stroke="#1b1b46" stroke-width="0.8"/>
<line x1="182.00" y1="179.94" x2="185.60" y2="179.94" stroke="#1b1b46" stroke-width="0.8"/>
<line x1="183.80" y1="169.87" x2="183.80" y2="168.55" stroke="#1b1b46" stroke-width="0.8"/>
<line x1="182.00" y1="168.55" x2="185.60" y2="168.55" stroke="#1b1b46" stroke-width="0.8"/>
<line x1="183.80" y1="160.86" x2="183.80" y2="157.15" stroke="#222" stroke-width="0.8"/>
<line x1="182.00" y1="157.15" x2="185.60" y2="157.15" stroke="#222" stroke-width="0.8"/>
<line x1="196.10" y1="208.83" x2="196.10" y2="206.44" stroke="#1b1b46" stroke-width="0.8"/>
<line x1="194.30" y1="206.44" x2="197.90" y2="206.44" stroke="#1b1b46" stroke-width="0.8"/>
<line x1="196.10" y1="176.23" x2="196.10" y2="174.91" stroke="#1b1b46" stroke-width="0.8"/>
<line x1="194.30" y1="174.91" x2="197.90" y2="174.91" stroke="#1b1b46" stroke-width="0.8"/>
<line x1="196.10" y1="168.55" x2="196.10" y2="167.22" stroke="#1b1b46" stroke-width="0.8"/>
<line x1="194.30" y1="167.22" x2="197.90" y2="167.22" stroke="#1b1b46" stroke-width="0.8"/>
<line x1="196.10" y1="160.86" x2="196.10" y2="157.15" stroke="#222" stroke-width="0.8"/>
<line x1="194.30" y1="157.15" x2="197.90" y2="157.15" stroke="#222" stroke-width="0.8"/>
<line x1="208.40" y1="208.83" x2="208.40" y2="206.44" stroke="#1b1b46" stroke-width="0.8"/>
<line x1="206.60" y1="206.44" x2="210.20" y2="206.44" stroke="#1b1b46" stroke-width="0.8"/>
<line x1="208.40" y1="176.23" x2="208.40" y2="174.91" stroke="#1b1b46" stroke-width="0.8"/>
<line x1="206.60" y1="174.91" x2="210.20" y2="174.91" stroke="#1b1b46" stroke-width="0.8"/>
<line x1="208.40" y1="168.81" x2="208.40" y2="167.49" stroke="#1b1b46" stroke-width="0.8"/>
<line x1="206.60" y1="167.49" x2="210.20" y2="167.49" stroke="#1b1b46" stroke-width="0.8"/>
<line x1="208.40" y1="160.86" x2="208.40" y2="157.15" stroke="#222" stroke-width="0.8"/>
<line x1="206.60" y1="157.15" x2="210.20" y2="157.15" stroke="#222" stroke-width="0.8"/>
<line x1="220.70" y1="208.83" x2="220.70" y2="206.44" stroke="#1b1b46" stroke-width="0.8"/>
<line x1="218.90" y1="206.44" x2="222.50" y2="206.44" stroke="#1b1b46" stroke-width="0.8"/>
<line x1="220.70" y1="175.70" x2="220.70" y2="174.38" stroke="#1b1b46" stroke-width="0.8"/>
<line x1="218.90" y1="174.38" x2="222.50" y2="174.38" stroke="#1b1b46" stroke-width="0.8"/>
<line x1="220.70" y1="168.55" x2="220.70" y2="167.22" stroke="#1b1b46" stroke-width="0.8"/>
<line x1="218.90" y1="167.22" x2="222.50" y2="167.22" stroke="#1b1b46" stroke-width="0.8"/>
<line x1="220.70" y1="160.86" x2="220.70" y2="157.15" stroke="#222" stroke-width="0.8"/>
<line x1="218.90" y1="157.15" x2="222.50" y2="157.15" stroke="#222" stroke-width="0.8"/>
<text transform="translate(159.20 224.40) scale(1.12 1)" font-size="5.6" text-anchor="middle">0</text>
<text transform="translate(171.50 224.40) scale(1.12 1)" font-size="5.6" text-anchor="middle">0.2</text>
<text transform="translate(183.80 224.40) scale(1.12 1)" font-size="5.6" text-anchor="middle">0.4</text>
<text transform="translate(196.10 224.40) scale(1.12 1)" font-size="5.6" text-anchor="middle">0.8</text>
<text transform="translate(208.40 224.40) scale(1.12 1)" font-size="5.6" text-anchor="middle">1.6</text>
<text transform="translate(220.70 224.40) scale(1.12 1)" font-size="5.6" text-anchor="middle">3.2</text>
<text transform="translate(54.15 197.67)" font-size="5.6" text-anchor="middle" fill="#1b1b46" letter-spacing="0.1">**</text>
<text transform="translate(66.60 191.37)" font-size="5.6" text-anchor="middle" fill="#1b1b46" letter-spacing="0.1">***</text>
<text transform="translate(79.05 187.97)" font-size="5.6" text-anchor="middle" fill="#1b1b46" letter-spacing="0.1">***</text>
<text transform="translate(91.50 187.97)" font-size="5.6" text-anchor="middle" fill="#1b1b46" letter-spacing="0.1">***</text>
<text transform="translate(103.95 185.07)" font-size="5.6" text-anchor="middle" fill="#1b1b46" letter-spacing="0.1">***</text>
<text transform="translate(183.80 179.27)" font-size="5.6" text-anchor="middle" fill="#1b1b46" letter-spacing="0.1">*</text>
<text transform="translate(196.10 175.87)" font-size="5.6" text-anchor="middle" fill="#1b1b46" letter-spacing="0.1">**</text>
<text transform="translate(208.40 175.87)" font-size="5.6" text-anchor="middle" fill="#1b1b46" letter-spacing="0.1">**</text>
<text transform="translate(220.70 175.17)" font-size="5.6" text-anchor="middle" fill="#1b1b46" letter-spacing="0.1">***</text>
<text transform="translate(73.40 235.80)" font-size="8.1" text-anchor="middle" font-weight="bold" textLength="59.00" lengthAdjust="spacingAndGlyphs">A1 concentration (μM)</text>
<text transform="translate(190.00 235.60)" font-size="8.1" text-anchor="middle" font-weight="bold" textLength="58.00" lengthAdjust="spacingAndGlyphs">A1 concentration (μM)</text>
<text transform="translate(12.70 179.60) rotate(-90)" font-size="7.2" text-anchor="middle" font-weight="bold" textLength="23.00" lengthAdjust="spacingAndGlyphs">Cells (%)</text>
<text transform="translate(129.00 179.60) rotate(-90)" font-size="7.2" text-anchor="middle" font-weight="bold" textLength="23.00" lengthAdjust="spacingAndGlyphs">Cells (%)</text>
<rect x="81.00" y="242.50" width="4.80" height="4.90" fill="#5b3518"/>
<text transform="translate(88.50 247.40)" font-size="6.0" text-anchor="start" textLength="20.30" lengthAdjust="spacingAndGlyphs">Sub-G1</text>
<rect x="116.00" y="242.40" width="5.50" height="5.40" fill="#2aa8e2"/>
<text transform="translate(125.00 247.40)" font-size="6.0" text-anchor="start" textLength="18.60" lengthAdjust="spacingAndGlyphs">G0/G1</text>
<rect x="149.00" y="242.40" width="6.20" height="5.40" fill="#8d85d3"/>
<text transform="translate(157.40 247.40)" font-size="6.0" text-anchor="start" textLength="3.60" lengthAdjust="spacingAndGlyphs">S</text>
<rect x="167.70" y="242.40" width="5.30" height="5.40" fill="#c6c6cc"/>
<text transform="translate(176.80 247.40)" font-size="6.0" text-anchor="start" textLength="15.70" lengthAdjust="spacingAndGlyphs">G2/M</text>
<text transform="translate(243.40 15.70) scale(0.85 1)" font-size="10.5" text-anchor="start" font-weight="bold" fill="#000" style="stroke:#000;stroke-width:0.35px">J</text>
<text transform="translate(311.20 25.80)" font-size="7.6" text-anchor="middle" fill="#000" textLength="15.30" lengthAdjust="spacingAndGlyphs">KV2</text>
<text transform="translate(362.70 25.80)" font-size="7.6" text-anchor="middle" fill="#000" textLength="15.80" lengthAdjust="spacingAndGlyphs">KB8</text>
<line x1="289.00" y1="30.60" x2="333.60" y2="30.60" stroke="#111" stroke-width="1.0"/>
<line x1="340.70" y1="30.60" x2="384.70" y2="30.60" stroke="#111" stroke-width="1.0"/>
<text transform="translate(295.50 38.80) scale(1.05 1)" font-size="5.8" text-anchor="middle">0</text>
<text transform="translate(307.20 38.80) scale(1.05 1)" font-size="5.8" text-anchor="middle">0.2</text>
<text transform="translate(319.00 38.80) scale(1.05 1)" font-size="5.8" text-anchor="middle">0.4</text>
<text transform="translate(331.00 38.80) scale(1.05 1)" font-size="5.8" text-anchor="middle">0.8</text>
<text transform="translate(342.60 38.80) scale(1.05 1)" font-size="5.8" text-anchor="middle">0</text>
<text transform="translate(354.80 38.80) scale(1.05 1)" font-size="5.8" text-anchor="middle">0.2</text>
<text transform="translate(366.60 38.80) scale(1.05 1)" font-size="5.8" text-anchor="middle">0.4</text>
<text transform="translate(378.50 38.80) scale(1.05 1)" font-size="5.8" text-anchor="middle">0.8</text>
<text transform="translate(282.00 38.80)" font-size="6.0" text-anchor="end" textLength="21.50" lengthAdjust="spacingAndGlyphs">A1 (μM)</text>
<rect x="285.30" y="42.80" width="102.00" height="17.60" fill="#fbfbfb"/>
<rect x="285.30" y="65.10" width="102.00" height="13.50" fill="#fbfbfb"/>
<rect x="285.30" y="83.30" width="102.00" height="14.10" fill="#fbfbfb"/>
<rect x="285.30" y="101.90" width="102.00" height="12.20" fill="#fbfbfb"/>
<rect x="285.30" y="118.60" width="102.00" height="26.10" fill="#f6f6f6"/>
<rect x="285.30" y="149.10" width="102.00" height="15.30" fill="#ececec"/>
<rect x="285.30" y="169.50" width="102.00" height="9.60" fill="#e2e2e2"/>
<rect x="285.30" y="183.80" width="102.00" height="9.20" fill="#fbfbfb"/>
<g filter="url(#blur)">
<rect x="290.50" y="48.10" width="10.00" height="3.80" rx="1.90" fill="#000" fill-opacity="1.0"/>
<rect x="302.60" y="48.70" width="9.20" height="2.20" rx="1.10" fill="#000" fill-opacity="1.0"/>
<rect x="302.70" y="54.30" width="9.00" height="1.80" rx="0.90" fill="#000" fill-opacity="1.0"/>
<rect x="314.40" y="53.50" width="9.20" height="3.40" rx="1.70" fill="#000" fill-opacity="1.0"/>
<rect x="326.00" y="53.00" width="10.00" height="4.00" rx="2.00" fill="#000" fill-opacity="1.0"/>
<rect x="337.70" y="47.80" width="9.80" height="3.80" rx="1.90" fill="#000" fill-opacity="1.0"/>
<rect x="349.90" y="47.60" width="9.80" height="3.80" rx="1.90" fill="#000" fill-opacity="1.0"/>
<rect x="361.70" y="46.90" width="9.80" height="3.80" rx="1.90" fill="#000" fill-opacity="1.0"/>
<rect x="373.60" y="46.70" width="9.80" height="3.80" rx="1.90" fill="#000" fill-opacity="1.0"/>
<rect x="291.10" y="66.30" width="8.80" height="10.60" rx="2.00" fill="#000" fill-opacity="0.55"/>
<rect x="291.10" y="70.30" width="8.80" height="5.80" rx="2.90" fill="#000" fill-opacity="0.95"/>
<rect x="302.80" y="66.30" width="8.80" height="10.60" rx="2.00" fill="#000" fill-opacity="0.5"/>
<rect x="302.80" y="70.40" width="8.80" height="5.60" rx="2.80" fill="#000" fill-opacity="0.92"/>
<rect x="314.60" y="66.30" width="8.80" height="10.60" rx="2.00" fill="#000" fill-opacity="0.38"/>
<rect x="314.90" y="70.80" width="8.20" height="4.80" rx="2.40" fill="#000" fill-opacity="0.75"/>
<rect x="326.60" y="66.30" width="8.80" height="10.60" rx="2.00" fill="#000" fill-opacity="0.32"/>
<rect x="327.00" y="71.00" width="8.00" height="4.40" rx="2.20" fill="#000" fill-opacity="0.66"/>
<rect x="337.50" y="67.30" width="10.20" height="8.60" rx="3.00" fill="#000" fill-opacity="1.0"/>
<rect x="349.70" y="67.30" width="10.20" height="8.60" rx="3.00" fill="#000" fill-opacity="1.0"/>
<rect x="361.50" y="67.30" width="10.20" height="8.60" rx="3.00" fill="#000" fill-opacity="1.0"/>
<rect x="373.70" y="67.60" width="9.60" height="8.00" rx="3.00" fill="#000" fill-opacity="1.0"/>
<rect x="290.90" y="89.40" width="9.20" height="3.40" rx="1.70" fill="#000" fill-opacity="1"/>
<rect x="302.40" y="89.40" width="9.60" height="3.40" rx="1.70" fill="#000" fill-opacity="1"/>
<rect x="314.30" y="89.40" width="9.40" height="3.40" rx="1.70" fill="#000" fill-opacity="1"/>
<rect x="326.60" y="89.40" width="8.80" height="3.40" rx="1.70" fill="#000" fill-opacity="0.95"/>
<rect x="338.35" y="90.40" width="8.50" height="1.80" rx="0.90" fill="#000" fill-opacity="0.15"/>
<rect x="350.55" y="90.40" width="8.50" height="1.80" rx="0.90" fill="#000" fill-opacity="0.38"/>
<rect x="362.35" y="90.40" width="8.50" height="1.80" rx="0.90" fill="#000" fill-opacity="0.18"/>
<rect x="374.25" y="90.40" width="8.50" height="1.80" rx="0.90" fill="#000" fill-opacity="0.18"/>
<rect x="334.10" y="89.80" width="3.00" height="2.60" rx="1.30" fill="#000" fill-opacity="0.9"/>
<rect x="291.50" y="103.10" width="8.00" height="3.00" rx="1.50" fill="#000" fill-opacity="0.3"/>
<rect x="290.70" y="105.70" width="9.60" height="4.20" rx="2.10" fill="#000" fill-opacity="1"/>
<rect x="302.50" y="106.00" width="9.40" height="4.00" rx="2.00" fill="#000" fill-opacity="1"/>
<rect x="314.70" y="107.10" width="8.60" height="2.60" rx="1.30" fill="#000" fill-opacity="0.95"/>
<rect x="326.80" y="107.40" width="8.40" height="2.20" rx="1.10" fill="#000" fill-opacity="0.75"/>
<rect x="338.20" y="106.50" width="8.80" height="3.00" rx="1.50" fill="#000" fill-opacity="0.88"/>
<rect x="350.10" y="106.40" width="9.40" height="3.20" rx="1.60" fill="#000" fill-opacity="0.95"/>
<rect x="362.30" y="106.60" width="8.60" height="2.80" rx="1.40" fill="#000" fill-opacity="0.9"/>
<rect x="374.50" y="106.70" width="8.00" height="2.60" rx="1.30" fill="#000" fill-opacity="0.85"/>
<rect x="290.50" y="121.70" width="10.00" height="7.00" rx="3.00" fill="#000" fill-opacity="1.0"/>
<rect x="302.20" y="121.70" width="10.00" height="7.00" rx="3.00" fill="#000" fill-opacity="1.0"/>
<rect x="314.00" y="121.70" width="10.00" height="7.00" rx="3.00" fill="#000" fill-opacity="1.0"/>
<rect x="326.00" y="121.70" width="10.00" height="7.00" rx="3.00" fill="#000" fill-opacity="1.0"/>
<rect x="337.60" y="121.30" width="10.00" height="6.60" rx="3.00" fill="#000" fill-opacity="1.0"/>
<rect x="349.80" y="121.30" width="10.00" height="6.60" rx="3.00" fill="#000" fill-opacity="1.0"/>
<rect x="361.60" y="121.30" width="10.00" height="6.60" rx="3.00" fill="#000" fill-opacity="1.0"/>
<rect x="374.10" y="122.10" width="8.80" height="5.40" rx="2.60" fill="#000" fill-opacity="1.0"/>
<rect x="291.00" y="135.90" width="9.00" height="2.20" rx="1.10" fill="#000" fill-opacity="0.18"/>
<rect x="302.70" y="135.90" width="9.00" height="2.20" rx="1.10" fill="#000" fill-opacity="0.45"/>
<rect x="314.50" y="135.90" width="9.00" height="2.20" rx="1.10" fill="#000" fill-opacity="0.5"/>
<rect x="326.50" y="135.90" width="9.00" height="2.20" rx="1.10" fill="#000" fill-opacity="0.5"/>
<rect x="338.10" y="135.90" width="9.00" height="2.20" rx="1.10" fill="#000" fill-opacity="0.18"/>
<rect x="350.30" y="135.90" width="9.00" height="2.20" rx="1.10" fill="#000" fill-opacity="0.22"/>
<rect x="362.10" y="135.90" width="9.00" height="2.20" rx="1.10" fill="#000" fill-opacity="0.15"/>
<rect x="374.00" y="135.90" width="9.00" height="2.20" rx="1.10" fill="#000" fill-opacity="0.08"/>
<rect x="315.00" y="129.25" width="8.00" height="3.50" rx="1.75" fill="#000" fill-opacity="0.25"/>
<rect x="327.00" y="129.25" width="8.00" height="3.50" rx="1.75" fill="#000" fill-opacity="0.2"/>
<g filter="url(#blur2)">
<path d="M303.0,158.3 C309,157.8 312,156.6 318,156.2 L336.6,155.9 Q338.4,158.0 336.6,160.1 L318,160.2 C312,160.0 309,159.0 303.0,158.7 Z" fill="url(#nx1)"/>
<path d="M348.0,158.0 C353,157.4 356,156.2 362,155.8 L383.8,155.6 Q385.6,157.6 383.8,159.6 L362,159.8 C356,159.6 353,158.8 348.0,158.4 Z" fill="url(#nx2)"/>
</g>
<rect x="290.30" y="171.80" width="10.40" height="5.00" rx="1.20" fill="#000" fill-opacity="0.375"/>
<rect x="291.50" y="173.20" width="8.00" height="2.80" rx="1.40" fill="#000" fill-opacity="0.75"/>
<rect x="302.00" y="171.80" width="10.40" height="5.00" rx="1.20" fill="#000" fill-opacity="0.45"/>
<rect x="303.20" y="173.20" width="8.00" height="2.80" rx="1.40" fill="#000" fill-opacity="0.9"/>
<rect x="313.80" y="171.80" width="10.40" height="5.00" rx="1.20" fill="#000" fill-opacity="0.4"/>
<rect x="315.00" y="173.20" width="8.00" height="2.80" rx="1.40" fill="#000" fill-opacity="0.8"/>
<rect x="325.80" y="171.80" width="10.40" height="5.00" rx="1.20" fill="#000" fill-opacity="0.3"/>
<rect x="327.00" y="173.20" width="8.00" height="2.80" rx="1.40" fill="#000" fill-opacity="0.6"/>
<rect x="337.40" y="171.80" width="10.40" height="5.00" rx="1.20" fill="#000" fill-opacity="0.25"/>
<rect x="338.60" y="173.20" width="8.00" height="2.80" rx="1.40" fill="#000" fill-opacity="0.5"/>
<rect x="349.60" y="171.80" width="10.40" height="5.00" rx="1.20" fill="#000" fill-opacity="0.25"/>
<rect x="350.80" y="173.20" width="8.00" height="2.80" rx="1.40" fill="#000" fill-opacity="0.5"/>
<rect x="361.40" y="171.80" width="10.40" height="5.00" rx="1.20" fill="#000" fill-opacity="0.15"/>
<rect x="362.60" y="173.20" width="8.00" height="2.80" rx="1.40" fill="#000" fill-opacity="0.3"/>
<rect x="373.30" y="171.80" width="10.40" height="5.00" rx="1.20" fill="#000" fill-opacity="0.075"/>
<rect x="374.50" y="173.20" width="8.00" height="2.80" rx="1.40" fill="#000" fill-opacity="0.15"/>
<rect x="290.30" y="187.10" width="10.40" height="2.80" rx="1.40" fill="#000" fill-opacity="1.0"/>
<rect x="302.00" y="187.10" width="10.40" height="2.80" rx="1.40" fill="#000" fill-opacity="1.0"/>
<rect x="313.80" y="187.10" width="10.40" height="2.80" rx="1.40" fill="#000" fill-opacity="1.0"/>
<rect x="325.80" y="187.10" width="10.40" height="2.80" rx="1.40" fill="#000" fill-opacity="1.0"/>
<rect x="337.40" y="187.10" width="10.40" height="2.80" rx="1.40" fill="#000" fill-opacity="1.0"/>
<rect x="349.60" y="187.10" width="10.40" height="2.80" rx="1.40" fill="#000" fill-opacity="1.0"/>
<rect x="361.40" y="187.10" width="10.40" height="2.80" rx="1.40" fill="#000" fill-opacity="1.0"/>
<rect x="373.30" y="187.10" width="10.40" height="2.80" rx="1.40" fill="#000" fill-opacity="1.0"/>
</g>
<rect x="286.00" y="43.50" width="100.60" height="16.20" fill="none" stroke="#000" stroke-width="1.4"/>
<text transform="translate(282.00 50.40)" font-size="6.0" text-anchor="end" textLength="14.70" lengthAdjust="spacingAndGlyphs">PARP</text>
<text transform="translate(282.00 57.90)" font-size="6.0" text-anchor="end" textLength="38.00" lengthAdjust="spacingAndGlyphs">Cleaved-PARP</text>
<rect x="286.00" y="65.80" width="100.60" height="12.10" fill="none" stroke="#000" stroke-width="1.4"/>
<text transform="translate(282.60 74.55)" font-size="6.0" text-anchor="end">Bcl-xL</text>
<rect x="286.00" y="84.00" width="100.60" height="12.70" fill="none" stroke="#000" stroke-width="1.4"/>
<text transform="translate(282.60 93.05)" font-size="6.0" text-anchor="end">Bcl-2</text>
<rect x="286.00" y="102.60" width="100.60" height="10.80" fill="none" stroke="#000" stroke-width="1.4"/>
<text transform="translate(282.60 110.70)" font-size="6.0" text-anchor="end">Mcl-1</text>
<rect x="286.00" y="119.30" width="100.60" height="24.70" fill="none" stroke="#000" stroke-width="1.4"/>
<text transform="translate(267.00 126.40)" font-size="6.0" text-anchor="start">Bim<tspan font-size="3.8" dy="1.5">EL</tspan></text>
<text transform="translate(266.00 139.70)" font-size="6.0" text-anchor="start">Bim<tspan font-size="3.8" dy="1.5">L/S</tspan></text>
<rect x="286.00" y="149.80" width="100.60" height="13.90" fill="none" stroke="#000" stroke-width="1.4"/>
<text transform="translate(282.60 159.45)" font-size="6.0" text-anchor="end">NOXA</text>
<rect x="286.00" y="170.20" width="100.60" height="8.20" fill="none" stroke="#000" stroke-width="1.4"/>
<text transform="translate(282.60 177.00)" font-size="6.0" text-anchor="end">Cyclin D1</text>
<rect x="286.00" y="184.50" width="100.60" height="7.80" fill="none" stroke="#000" stroke-width="1.4"/>
<text transform="translate(282.60 191.10)" font-size="6.0" text-anchor="end">β-actin</text>
<line x1="431.60" y1="24.30" x2="431.60" y2="89.80" stroke="#111" stroke-width="1.2"/>
<line x1="431.10" y1="89.20" x2="513.00" y2="89.20" stroke="#111" stroke-width="1.2"/>
<line x1="428.80" y1="89.20" x2="431.60" y2="89.20" stroke="#111" stroke-width="1.0"/>
<text transform="translate(426.60 91.15) scale(1.08 1)" font-size="5.5" text-anchor="end">0</text>
<line x1="428.80" y1="73.70" x2="431.60" y2="73.70" stroke="#111" stroke-width="1.0"/>
<text transform="translate(426.60 75.65) scale(1.08 1)" font-size="5.5" text-anchor="end">1</text>
<line x1="428.80" y1="58.20" x2="431.60" y2="58.20" stroke="#111" stroke-width="1.0"/>
<text transform="translate(426.60 60.15) scale(1.08 1)" font-size="5.5" text-anchor="end">2</text>
<line x1="428.80" y1="42.70" x2="431.60" y2="42.70" stroke="#111" stroke-width="1.0"/>
<text transform="translate(426.60 44.65) scale(1.08 1)" font-size="5.5" text-anchor="end">3</text>
<line x1="428.80" y1="27.20" x2="431.60" y2="27.20" stroke="#111" stroke-width="1.0"/>
<text transform="translate(426.60 29.15) scale(1.08 1)" font-size="5.5" text-anchor="end">4</text>
<rect x="435.65" y="73.70" width="5.30" height="15.50" fill="#bd1131"/>
<line x1="438.30" y1="89.20" x2="438.30" y2="91.60" stroke="#111" stroke-width="1.0"/>
<text transform="translate(441.30 99.00) rotate(-45)" font-size="6.0" text-anchor="end">0</text>
<rect x="444.35" y="63.62" width="5.30" height="25.58" fill="#bd1131"/>
<line x1="447.00" y1="63.62" x2="447.00" y2="57.12" stroke="#8c0d27" stroke-width="0.75"/>
<line x1="445.70" y1="57.12" x2="448.30" y2="57.12" stroke="#8c0d27" stroke-width="0.75"/>
<line x1="447.00" y1="89.20" x2="447.00" y2="91.60" stroke="#111" stroke-width="1.0"/>
<text transform="translate(450.00 99.00) rotate(-45)" font-size="6.0" text-anchor="end">0.2</text>
<rect x="453.65" y="54.02" width="5.30" height="35.19" fill="#bd1131"/>
<line x1="456.30" y1="54.02" x2="456.30" y2="43.79" stroke="#8c0d27" stroke-width="0.75"/>
<line x1="455.00" y1="43.79" x2="457.60" y2="43.79" stroke="#8c0d27" stroke-width="0.75"/>
<text transform="translate(456.30 43.38)" font-size="5.8" text-anchor="middle" fill="#111" letter-spacing="0.1">*</text>
<line x1="456.30" y1="89.20" x2="456.30" y2="91.60" stroke="#111" stroke-width="1.0"/>
<text transform="translate(459.30 99.00) rotate(-45)" font-size="6.0" text-anchor="end">0.4</text>
<rect x="462.65" y="52.31" width="5.30" height="36.89" fill="#bd1131"/>
<line x1="465.30" y1="52.31" x2="465.30" y2="39.60" stroke="#8c0d27" stroke-width="0.75"/>
<line x1="464.00" y1="39.60" x2="466.60" y2="39.60" stroke="#8c0d27" stroke-width="0.75"/>
<text transform="translate(465.30 39.98)" font-size="5.8" text-anchor="middle" fill="#111" letter-spacing="0.1">*</text>
<line x1="465.30" y1="89.20" x2="465.30" y2="91.60" stroke="#111" stroke-width="1.0"/>
<text transform="translate(468.30 99.00) rotate(-45)" font-size="6.0" text-anchor="end">0.8</text>
<rect x="478.05" y="73.70" width="5.30" height="15.50" fill="#14518f"/>
<line x1="480.70" y1="89.20" x2="480.70" y2="91.60" stroke="#111" stroke-width="1.0"/>
<text transform="translate(483.70 99.00) rotate(-45)" font-size="6.0" text-anchor="end">0</text>
<rect x="486.95" y="60.37" width="5.30" height="28.83" fill="#14518f"/>
<line x1="489.60" y1="60.37" x2="489.60" y2="53.86" stroke="#0d2f58" stroke-width="0.75"/>
<line x1="488.30" y1="53.86" x2="490.90" y2="53.86" stroke="#0d2f58" stroke-width="0.75"/>
<text transform="translate(489.60 53.78)" font-size="5.8" text-anchor="middle" fill="#111" letter-spacing="0.1">**</text>
<line x1="489.60" y1="89.20" x2="489.60" y2="91.60" stroke="#111" stroke-width="1.0"/>
<text transform="translate(492.60 99.00) rotate(-45)" font-size="6.0" text-anchor="end">0.2</text>
<rect x="496.05" y="48.90" width="5.30" height="40.30" fill="#14518f"/>
<line x1="498.70" y1="48.90" x2="498.70" y2="42.70" stroke="#0d2f58" stroke-width="0.75"/>
<line x1="497.40" y1="42.70" x2="500.00" y2="42.70" stroke="#0d2f58" stroke-width="0.75"/>
<text transform="translate(498.70 42.98)" font-size="5.8" text-anchor="middle" fill="#111" letter-spacing="0.1">***</text>
<line x1="498.70" y1="89.20" x2="498.70" y2="91.60" stroke="#111" stroke-width="1.0"/>
<text transform="translate(501.70 99.00) rotate(-45)" font-size="6.0" text-anchor="end">0.4</text>
<rect x="505.05" y="52.00" width="5.30" height="37.20" fill="#14518f"/>
<line x1="507.70" y1="52.00" x2="507.70" y2="48.59" stroke="#0d2f58" stroke-width="0.75"/>
<line x1="506.40" y1="48.59" x2="509.00" y2="48.59" stroke="#0d2f58" stroke-width="0.75"/>
<text transform="translate(507.70 48.78)" font-size="5.8" text-anchor="middle" fill="#111" letter-spacing="0.1">***</text>
<line x1="507.70" y1="89.20" x2="507.70" y2="91.60" stroke="#111" stroke-width="1.0"/>
<text transform="translate(510.70 99.00) rotate(-45)" font-size="6.0" text-anchor="end">0.8</text>
<rect x="435.80" y="21.30" width="5.40" height="5.50" fill="#bd1131"/>
<text transform="translate(444.40 26.10)" font-size="5.9" text-anchor="start" textLength="11.30" lengthAdjust="spacingAndGlyphs">KV2</text>
<rect x="435.80" y="31.30" width="5.40" height="5.50" fill="#14518f"/>
<text transform="translate(444.40 36.10)" font-size="5.9" text-anchor="start" textLength="11.30" lengthAdjust="spacingAndGlyphs">KB8</text>
<text transform="translate(407.60 54.50) rotate(-90)" font-size="6.9" text-anchor="middle" font-weight="bold" textLength="65.40" lengthAdjust="spacingAndGlyphs">Relative expression of NOXA</text>
<text transform="translate(416.40 56.20) rotate(-90)" font-size="6.9" text-anchor="middle" font-weight="bold" textLength="26.40" lengthAdjust="spacingAndGlyphs">(% of Con)</text>
<text transform="translate(472.20 115.80)" font-size="8.1" text-anchor="middle" font-weight="bold" textLength="57.60" lengthAdjust="spacingAndGlyphs">A1 concentration (μM)</text>
<line x1="432.60" y1="148.30" x2="432.60" y2="213.40" stroke="#111" stroke-width="1.2"/>
<line x1="432.10" y1="212.80" x2="513.00" y2="212.80" stroke="#111" stroke-width="1.2"/>
<line x1="429.80" y1="212.80" x2="432.60" y2="212.80" stroke="#111" stroke-width="1.0"/>
<text transform="translate(427.60 214.75) scale(1.08 1)" font-size="5.5" text-anchor="end">0.0</text>
<line x1="429.80" y1="192.10" x2="432.60" y2="192.10" stroke="#111" stroke-width="1.0"/>
<text transform="translate(427.60 194.05) scale(1.08 1)" font-size="5.5" text-anchor="end">0.5</text>
<line x1="429.80" y1="171.40" x2="432.60" y2="171.40" stroke="#111" stroke-width="1.0"/>
<text transform="translate(427.60 173.35) scale(1.08 1)" font-size="5.5" text-anchor="end">1.0</text>
<line x1="429.80" y1="150.70" x2="432.60" y2="150.70" stroke="#111" stroke-width="1.0"/>
<text transform="translate(427.60 152.65) scale(1.08 1)" font-size="5.5" text-anchor="end">1.5</text>
<rect x="436.20" y="172.23" width="5.20" height="40.57" fill="#bd1131"/>
<line x1="438.80" y1="212.80" x2="438.80" y2="215.20" stroke="#111" stroke-width="1.0"/>
<text transform="translate(441.80 222.60) rotate(-45)" font-size="6.0" text-anchor="end">0</text>
<rect x="444.50" y="174.71" width="5.20" height="38.09" fill="#bd1131"/>
<line x1="447.10" y1="174.71" x2="447.10" y2="167.67" stroke="#8c0d27" stroke-width="0.75"/>
<line x1="445.80" y1="167.67" x2="448.40" y2="167.67" stroke="#8c0d27" stroke-width="0.75"/>
<line x1="447.10" y1="212.80" x2="447.10" y2="215.20" stroke="#111" stroke-width="1.0"/>
<text transform="translate(450.10 222.60) rotate(-45)" font-size="6.0" text-anchor="end">0.2</text>
<rect x="453.50" y="182.99" width="5.20" height="29.81" fill="#bd1131"/>
<line x1="456.10" y1="182.99" x2="456.10" y2="175.54" stroke="#8c0d27" stroke-width="0.75"/>
<line x1="454.80" y1="175.54" x2="457.40" y2="175.54" stroke="#8c0d27" stroke-width="0.75"/>
<text transform="translate(456.10 175.18)" font-size="5.8" text-anchor="middle" fill="#111" letter-spacing="0.1">*</text>
<line x1="456.10" y1="212.80" x2="456.10" y2="215.20" stroke="#111" stroke-width="1.0"/>
<text transform="translate(459.10 222.60) rotate(-45)" font-size="6.0" text-anchor="end">0.4</text>
<rect x="462.40" y="185.89" width="5.20" height="26.91" fill="#bd1131"/>
<line x1="465.00" y1="185.89" x2="465.00" y2="178.44" stroke="#8c0d27" stroke-width="0.75"/>
<line x1="463.70" y1="178.44" x2="466.30" y2="178.44" stroke="#8c0d27" stroke-width="0.75"/>
<text transform="translate(465.00 178.18)" font-size="5.8" text-anchor="middle" fill="#111" letter-spacing="0.1">*</text>
<line x1="465.00" y1="212.80" x2="465.00" y2="215.20" stroke="#111" stroke-width="1.0"/>
<text transform="translate(468.00 222.60) rotate(-45)" font-size="6.0" text-anchor="end">0.8</text>
<rect x="477.70" y="172.23" width="5.20" height="40.57" fill="#14518f"/>
<line x1="480.30" y1="212.80" x2="480.30" y2="215.20" stroke="#111" stroke-width="1.0"/>
<text transform="translate(483.30 222.60) rotate(-45)" font-size="6.0" text-anchor="end">0</text>
<rect x="486.60" y="176.37" width="5.20" height="36.43" fill="#14518f"/>
<line x1="489.20" y1="176.37" x2="489.20" y2="171.40" stroke="#0d2f58" stroke-width="0.75"/>
<line x1="487.90" y1="171.40" x2="490.50" y2="171.40" stroke="#0d2f58" stroke-width="0.75"/>
<line x1="489.20" y1="212.80" x2="489.20" y2="215.20" stroke="#111" stroke-width="1.0"/>
<text transform="translate(492.20 222.60) rotate(-45)" font-size="6.0" text-anchor="end">0.2</text>
<rect x="495.50" y="185.48" width="5.20" height="27.32" fill="#14518f"/>
<line x1="498.10" y1="185.48" x2="498.10" y2="182.16" stroke="#0d2f58" stroke-width="0.75"/>
<line x1="496.80" y1="182.16" x2="499.40" y2="182.16" stroke="#0d2f58" stroke-width="0.75"/>
<text transform="translate(498.10 182.18)" font-size="5.8" text-anchor="middle" fill="#111" letter-spacing="0.1">***</text>
<line x1="498.10" y1="212.80" x2="498.10" y2="215.20" stroke="#111" stroke-width="1.0"/>
<text transform="translate(501.10 222.60) rotate(-45)" font-size="6.0" text-anchor="end">0.4</text>
<rect x="504.40" y="184.23" width="5.20" height="28.57" fill="#14518f"/>
<line x1="507.00" y1="184.23" x2="507.00" y2="179.27" stroke="#0d2f58" stroke-width="0.75"/>
<line x1="505.70" y1="179.27" x2="508.30" y2="179.27" stroke="#0d2f58" stroke-width="0.75"/>
<text transform="translate(507.00 179.48)" font-size="5.8" text-anchor="middle" fill="#111" letter-spacing="0.1">**</text>
<line x1="507.00" y1="212.80" x2="507.00" y2="215.20" stroke="#111" stroke-width="1.0"/>
<text transform="translate(510.00 222.60) rotate(-45)" font-size="6.0" text-anchor="end">0.8</text>
<rect x="435.80" y="147.60" width="5.40" height="5.50" fill="#bd1131"/>
<text transform="translate(444.40 152.40)" font-size="5.9" text-anchor="start" textLength="11.30" lengthAdjust="spacingAndGlyphs">KV2</text>
<rect x="435.80" y="157.60" width="5.40" height="5.50" fill="#14518f"/>
<text transform="translate(444.40 162.40)" font-size="5.9" text-anchor="start" textLength="11.30" lengthAdjust="spacingAndGlyphs">KB8</text>
<text transform="translate(403.20 179.60) rotate(-90)" font-size="6.9" text-anchor="middle" font-weight="bold" textLength="54.30" lengthAdjust="spacingAndGlyphs">Relative expression of</text>
<text transform="translate(410.60 179.70) rotate(-90)" font-size="6.9" text-anchor="middle" font-weight="bold" textLength="52.50" lengthAdjust="spacingAndGlyphs">cyclin D1 (% of Con)</text>
<text transform="translate(472.20 238.80)" font-size="8.1" text-anchor="middle" font-weight="bold" textLength="57.60" lengthAdjust="spacingAndGlyphs">A1 concentration (μM)</text>
</g>
<rect x="0.5" y="0.5" width="519" height="254" fill="none" stroke="#555" stroke-width="1"/>
</svg></body></html>
